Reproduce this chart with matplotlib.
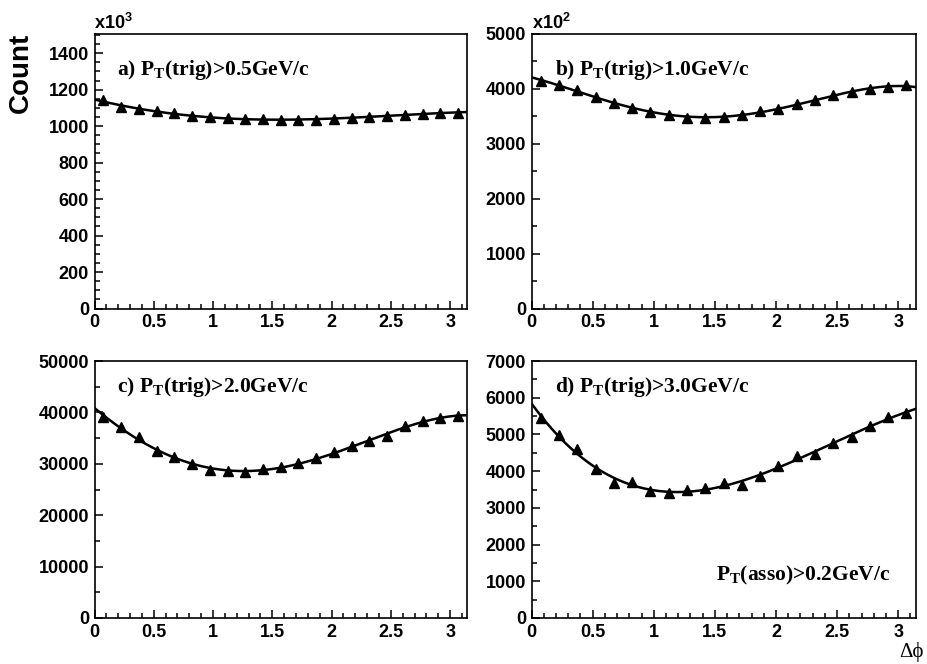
import numpy as np
import matplotlib
matplotlib.use('Agg')
import matplotlib.pyplot as plt
from matplotlib.ticker import MultipleLocator

plt.rcParams['font.family'] = 'Liberation Sans'
plt.rcParams['font.weight'] = 'bold'
plt.rcParams['mathtext.fontset'] = 'custom'
plt.rcParams['mathtext.rm'] = 'Liberation Serif:bold'
plt.rcParams['mathtext.sf'] = 'Liberation Sans:bold'

N_BINS = 21
dphi = (np.arange(N_BINS) + 0.5) * np.pi / N_BINS

# counts (panel a in units of 10^3, panel b in units of 10^2)
count_a = [1142, 1103, 1093, 1081, 1071, 1058, 1049, 1043, 1038, 1037, 1034,
           1034, 1036, 1041, 1047, 1051, 1056, 1063, 1068, 1072, 1074]
count_b = [4150, 4065, 3975, 3855, 3745, 3660, 3575, 3520, 3478, 3478, 3490,
           3530, 3590, 3640, 3728, 3800, 3880, 3935, 3990, 4040, 4068]
count_c = [39060, 37170, 35220, 32550, 31250, 30010, 28710, 28650, 28320, 28970, 29430,
           30140, 31120, 32230, 33400, 34375, 35350, 37300, 38280, 38930, 39390]
count_d = [5450, 4986, 4612, 4065, 3673, 3692, 3446, 3400, 3473, 3537, 3673,
           3628, 3874, 4129, 4403, 4476, 4767, 4931, 5223, 5478, 5588]

labels = ['a) P$_{\\rm T}$(trig)>0.5GeV/c', 'b) P$_{\\rm T}$(trig)>1.0GeV/c',
          'c) P$_{\\rm T}$(trig)>2.0GeV/c', 'd) P$_{\\rm T}$(trig)>3.0GeV/c']
ymax = [1505, 5000, 50000, 7000]
ymajor = [200, 1000, 10000, 1000]
yminor = [50, 500, 5000, 500]
exponents = ['x10$^{\\mathsf{3}}$', 'x10$^{\\mathsf{2}}$', None, None]

W, H = 927, 664
# axes boxes in pixels: left, top, right, bottom
boxes = [(94.5, 34, 467, 308.5), (531.5, 34, 915.5, 308.5),
         (94.5, 361, 467, 618), (531.5, 361, 915.5, 618)]
label_y = [0.851, 0.851, 0.88, 0.88]


def smooth_fit(x, y):
    coef = np.polyfit(x, y, 4)
    xs = np.linspace(0, np.pi, 300)
    return xs, np.polyval(coef, xs)


fig = plt.figure(figsize=(W / 100, H / 100), dpi=100)

for i, counts in enumerate([count_a, count_b, count_c, count_d]):
    l, t, r, b = boxes[i]
    ax = fig.add_axes([l / W, 1 - b / H, (r - l) / W, (b - t) / H])
    xs, ys = smooth_fit(dphi, counts)
    ax.plot(xs, ys, color='black', lw=1.8, zorder=2)
    ax.plot(dphi, counts, '^', color='black', ms=7, zorder=3)
    ax.set_xlim(0, np.pi)
    ax.set_ylim(0, ymax[i])
    ax.xaxis.set_major_locator(MultipleLocator(0.5))
    ax.xaxis.set_minor_locator(MultipleLocator(0.1))
    ax.yaxis.set_major_locator(MultipleLocator(ymajor[i]))
    ax.yaxis.set_minor_locator(MultipleLocator(yminor[i]))
    ax.xaxis.set_major_formatter(plt.FuncFormatter(lambda v, p: '%g' % v))
    ax.yaxis.set_major_formatter(plt.FuncFormatter(lambda v, p: '%d' % v))
    ax.tick_params(which='both', direction='in', top=False, right=False,
                   labelsize=13, width=1.1)
    ax.tick_params(which='major', length=6, pad=4)
    ax.tick_params(which='minor', length=3.5)
    for lab in ax.get_xticklabels() + ax.get_yticklabels():
        lab.set_fontweight('bold')
    for sp in ax.spines.values():
        sp.set_linewidth(1.2)
    ax.text(0.06, label_y[i], labels[i], transform=ax.transAxes, fontsize=15.5,
            family='Liberation Serif', fontweight='bold', va='baseline')
    if exponents[i]:
        ax.text(0.0, 1.005, exponents[i], transform=ax.transAxes, fontsize=13,
                fontweight='bold', ha='left', va='bottom')
    if i == 3:
        ax.text(0.48, 0.145, 'P$_{\\rm T}$(asso)>0.2GeV/c', transform=ax.transAxes,
                fontsize=15.5, family='Liberation Serif', fontweight='bold',
                va='baseline')

fig.text(21 / W, 1 - 33 / H, 'Count', rotation=90, ha='center', va='top',
         fontsize=20, fontweight='bold')
fig.text(924 / W, 1 - 657 / H, 'Δϕ', ha='right', va='baseline', fontsize=15,
         family=['Liberation Serif', 'DejaVu Serif'], fontweight='normal')

fig.savefig('out.png', dpi=100)
